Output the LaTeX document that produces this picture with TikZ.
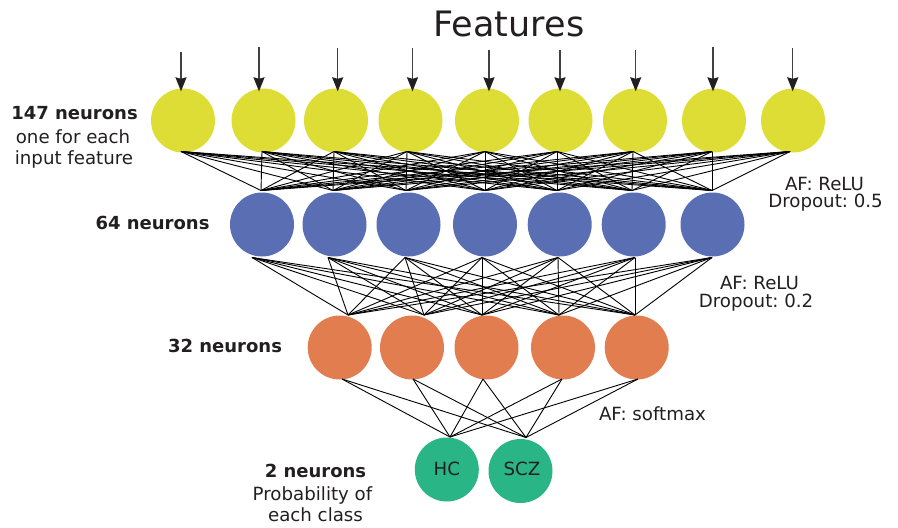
\documentclass[tikz,border=0pt]{standalone}
\usepackage{fontspec}
\setmainfont{DejaVu Sans}
\usetikzlibrary{arrows.meta}
\definecolor{yel}{RGB}{221,221,54}
\definecolor{blu}{RGB}{90,110,180}
\definecolor{ora}{RGB}{226,125,80}
\definecolor{grn}{RGB}{42,181,134}
\definecolor{txt}{RGB}{35,31,32}
\frenchspacing
\begin{document}
\frenchspacing
\begin{tikzpicture}[x=1pt,y=-1pt,
  neuron/.style={circle,inner sep=0pt,minimum size=64pt,draw=none},
  conn/.style={line width=0.9pt,draw=black},
  inarrow/.style={line width=1.4pt,draw=black!75,-{Stealth[length=14pt,width=11pt,inset=1.5pt,color=txt,fill=txt]},shorten >=-3pt},
  lbl/.style={font=\fontsize{18.2}{22}\selectfont,text=txt,anchor=base,inner sep=0pt},
  blbl/.style={font=\fontsize{18}{22}\selectfont\bfseries,text=txt,anchor=base,inner sep=0pt}]
\useasboundingbox (0,0) rectangle (898,528);

% neurons
\foreach \i/\x in {1/183,2/263.5,3/336,4/410.5,5/487,6/560.5,7/635,8/714,9/793}
  \node[neuron,fill=yel] (y\i) at (\x,120.5) {};
\foreach \i/\x in {1/262,2/334.5,3/408.5,4/485,5/559.7,6/633.7,7/712.5}
  \node[neuron,fill=blu] (b\i) at (\x,224.5) {};
\foreach \i/\x in {1/339.7,2/412,3/486.5,4/563,5/636.7}
  \node[neuron,fill=ora] (o\i) at (\x,347.5) {};
\node[neuron,fill=grn] (g1) at (446.8,469.5) {};
\node[neuron,fill=grn] (g2) at (520.5,471) {};

% input arrows
\foreach \i/\x/\t in {1/181/52,2/259/47,3/337.7/48,4/412.5/48,5/489/50,6/560/50,7/635.7/50,8/713/47,9/792.7/48}{
  \coordinate (a\i) at (\x,\t);
  \draw[inarrow] (a\i) -- (a\i |- y\i.north);
}

% connection points
\foreach \i/\x in {1/181,2/262,3/334,4/407,5/485,6/557,7/633,8/712,9/790}
  \coordinate (yb\i) at (\x,151.5);
\foreach \i/\x in {1/261,2/333,3/406,4/485,5/557,6/632,7/712}
  \coordinate (bt\i) at (\x,190.5);
\foreach \i/\x in {1/252,2/328,3/405,4/482,5/558,6/635,7/712}
  \coordinate (bb\i) at (\x,257.5);
\foreach \i/\x in {1/348,2/424,3/482,4/559,5/635}
  \coordinate (ot\i) at (\x,315);
\foreach \i/\x in {1/342,2/413,3/483,4/562,5/638}
  \coordinate (ob\i) at (\x,379);
\coordinate (gt1) at (450,437);
\coordinate (gt2) at (526,437.5);

% connections
\foreach \i in {1,...,9}
  \foreach \j in {1,...,7}
    \draw[conn] (yb\i) -- (bt\j);
\foreach \i in {1,...,7}
  \foreach \j in {1,...,5}
    \draw[conn] (bb\i) -- (ot\j);
\foreach \i in {1,...,5}
  \foreach \j in {1,2}
    \draw[conn] (ob\i) -- (gt\j);

% texts
\node[text=txt,anchor=base,inner sep=0pt,font=\fontsize{35}{40}\selectfont] (title) at (509,36) {Features};
\node[blbl] (l147) at (74.5,119) {147 neurons};
\node[lbl] (l147a) at (73,143) {one for each};
\node[lbl] (l147b) at (74,164.5) {input feature};
\node[blbl] (l64) at (152.5,229) {64 neurons};
\node[blbl] (l32) at (225,352) {32 neurons};
\node[blbl] (l2) at (315.5,477) {2 neurons};
\node[lbl] (l2a) at (312.5,500) {Probability of};
\node[lbl] (l2b) at (315.5,521.5) {each class};
\node[lbl] (af1) at (824.5,190) {AF: ReLU};
\node[lbl] (dr1) at (825.5,207.5) {Dropout: 0.5};
\node[lbl] (af2) at (759.5,289) {AF: ReLU};
\node[lbl] (dr2) at (756,307.5) {Dropout: 0.2};
\node[lbl] (af3) at (652.5,420) {AF: softmax};
\node[lbl] (hc) at (g1 |- 0,475) {HC};
\node[lbl] (scz) at (522,475) {SCZ};
\end{tikzpicture}
\end{document}
